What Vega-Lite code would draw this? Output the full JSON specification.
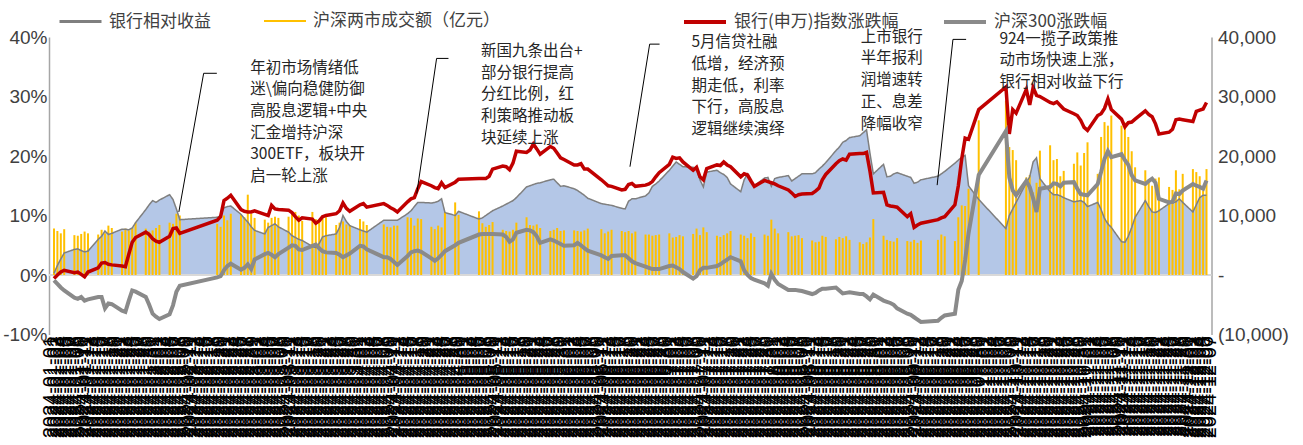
{
  "$schema": "https://vega.github.io/schema/vega-lite/v6.json",
  "width": 1162.5,
  "height": 297.5,
  "autosize": {"type": "none"},
  "padding": {"left": 49, "top": 37, "right": 91.5, "bottom": 110.5},
  "background": "white",
  "config": {"view": {"stroke": null}, "font": "Liberation Sans"},
  "datasets": {
    "main": [
      {"date":"2024-01-02","bank":-0.6,"hs300":-0.9,"rel":0.3,"vol":7800},
      {"date":"2024-01-03","bank":0.0,"hs300":-1.5,"rel":1.6,"vol":7400},
      {"date":"2024-01-04","bank":0.5,"hs300":-2.1,"rel":2.7,"vol":7000},
      {"date":"2024-01-05","bank":0.8,"hs300":-2.6,"rel":3.7,"vol":7700},
      {"date":"2024-01-08","bank":0.4,"hs300":-3.8,"rel":4.3,"vol":6700},
      {"date":"2024-01-09","bank":0.5,"hs300":-4.0,"rel":4.4,"vol":6600},
      {"date":"2024-01-10","bank":0.1,"hs300":-3.7,"rel":4.1,"vol":6900},
      {"date":"2024-01-11","bank":-0.3,"hs300":-4.3,"rel":3.9,"vol":7300},
      {"date":"2024-01-12","bank":0.5,"hs300":-4.1,"rel":4.0,"vol":7000},
      {"date":"2024-01-15","bank":1.2,"hs300":-3.7,"rel":6.0,"vol":6800},
      {"date":"2024-01-16","bank":2.0,"hs300":-3.7,"rel":6.5,"vol":7600},
      {"date":"2024-01-17","bank":2.1,"hs300":-5.6,"rel":7.4,"vol":7000},
      {"date":"2024-01-18","bank":1.8,"hs300":-4.8,"rel":6.8,"vol":8300},
      {"date":"2024-01-19","bank":1.7,"hs300":-4.9,"rel":7.0,"vol":7900},
      {"date":"2024-01-22","bank":1.5,"hs300":-6.0,"rel":7.7,"vol":7300},
      {"date":"2024-01-23","bank":1.4,"hs300":-6.2,"rel":7.7,"vol":7800},
      {"date":"2024-01-24","bank":3.5,"hs300":-4.3,"rel":7.6,"vol":7500},
      {"date":"2024-01-25","bank":5.5,"hs300":-2.6,"rel":7.9,"vol":7900},
      {"date":"2024-01-26","bank":6.3,"hs300":-2.8,"rel":8.8,"vol":8800},
      {"date":"2024-01-29","bank":7.2,"hs300":-3.7,"rel":11.0,"vol":7800},
      {"date":"2024-01-30","bank":6.8,"hs300":-5.0,"rel":11.8,"vol":7300},
      {"date":"2024-01-31","bank":6.1,"hs300":-6.5,"rel":12.5,"vol":7500},
      {"date":"2024-02-01","bank":5.7,"hs300":-7.0,"rel":12.2,"vol":7900},
      {"date":"2024-02-02","bank":5.5,"hs300":-7.4,"rel":12.6,"vol":8400},
      {"date":"2024-02-05","bank":6.5,"hs300":-6.6,"rel":13.5,"vol":8800},
      {"date":"2024-02-06","bank":7.8,"hs300":-5.1,"rel":12.7,"vol":8600},
      {"date":"2024-02-07","bank":7.9,"hs300":-2.8,"rel":11.1,"vol":10300},
      {"date":"2024-02-08","bank":7.0,"hs300":-1.8,"rel":9.3,"vol":10000},
      {"date":"2024-02-19","bank":9.2,"hs300":-0.4,"rel":9.7,"vol":8600},
      {"date":"2024-02-20","bank":9.8,"hs300":-0.2,"rel":10.0,"vol":8100},
      {"date":"2024-02-21","bank":12.5,"hs300":0.8,"rel":11.3,"vol":10000},
      {"date":"2024-02-22","bank":12.9,"hs300":1.5,"rel":11.5,"vol":9200},
      {"date":"2024-02-23","bank":13.4,"hs300":1.9,"rel":11.6,"vol":10300},
      {"date":"2024-02-26","bank":11.0,"hs300":0.9,"rel":10.2,"vol":10200},
      {"date":"2024-02-27","bank":10.7,"hs300":1.2,"rel":9.5,"vol":9700},
      {"date":"2024-02-28","bank":10.6,"hs300":1.8,"rel":8.9,"vol":13500},
      {"date":"2024-02-29","bank":10.6,"hs300":1.0,"rel":8.1,"vol":10300},
      {"date":"2024-03-01","bank":10.8,"hs300":2.6,"rel":7.5,"vol":9600},
      {"date":"2024-03-04","bank":10.2,"hs300":3.5,"rel":6.9,"vol":9300},
      {"date":"2024-03-05","bank":10.0,"hs300":3.7,"rel":8.0,"vol":8800},
      {"date":"2024-03-06","bank":11.7,"hs300":3.4,"rel":8.3,"vol":9600},
      {"date":"2024-03-07","bank":11.1,"hs300":3.0,"rel":8.6,"vol":9800},
      {"date":"2024-03-08","bank":11.0,"hs300":3.5,"rel":8.1,"vol":9600},
      {"date":"2024-03-11","bank":10.9,"hs300":4.6,"rel":7.2,"vol":9800},
      {"date":"2024-03-12","bank":10.5,"hs300":5.0,"rel":6.6,"vol":10600},
      {"date":"2024-03-13","bank":9.8,"hs300":4.9,"rel":6.3,"vol":10600},
      {"date":"2024-03-14","bank":9.2,"hs300":4.3,"rel":6.0,"vol":10000},
      {"date":"2024-03-15","bank":9.6,"hs300":4.2,"rel":5.8,"vol":9100},
      {"date":"2024-03-18","bank":9.4,"hs300":4.9,"rel":4.8,"vol":10600},
      {"date":"2024-03-19","bank":8.7,"hs300":5.1,"rel":4.6,"vol":9400},
      {"date":"2024-03-20","bank":9.1,"hs300":4.5,"rel":5.3,"vol":8800},
      {"date":"2024-03-21","bank":9.8,"hs300":4.0,"rel":6.4,"vol":10000},
      {"date":"2024-03-22","bank":10.0,"hs300":3.8,"rel":6.6,"vol":9700},
      {"date":"2024-03-25","bank":10.3,"hs300":3.7,"rel":6.9,"vol":8400},
      {"date":"2024-03-26","bank":10.8,"hs300":3.4,"rel":8.0,"vol":8800},
      {"date":"2024-03-27","bank":12.1,"hs300":3.0,"rel":10.0,"vol":9000},
      {"date":"2024-03-28","bank":11.2,"hs300":3.3,"rel":9.0,"vol":8500},
      {"date":"2024-03-29","bank":10.7,"hs300":3.6,"rel":8.3,"vol":8400},
      {"date":"2024-04-01","bank":11.8,"hs300":4.9,"rel":7.6,"vol":9400},
      {"date":"2024-04-02","bank":12.0,"hs300":4.8,"rel":7.4,"vol":9000},
      {"date":"2024-04-03","bank":11.4,"hs300":4.3,"rel":7.2,"vol":8400},
      {"date":"2024-04-08","bank":12.0,"hs300":3.0,"rel":9.2,"vol":8500},
      {"date":"2024-04-09","bank":11.7,"hs300":3.0,"rel":9.2,"vol":8100},
      {"date":"2024-04-10","bank":11.3,"hs300":2.7,"rel":9.2,"vol":8000},
      {"date":"2024-04-11","bank":11.0,"hs300":2.2,"rel":9.2,"vol":8300},
      {"date":"2024-04-12","bank":10.6,"hs300":1.7,"rel":9.2,"vol":8300},
      {"date":"2024-04-15","bank":12.3,"hs300":3.2,"rel":10.3,"vol":9700},
      {"date":"2024-04-16","bank":12.8,"hs300":3.8,"rel":10.8,"vol":9600},
      {"date":"2024-04-17","bank":13.0,"hs300":4.0,"rel":11.5,"vol":8300},
      {"date":"2024-04-18","bank":14.5,"hs300":4.1,"rel":12.2,"vol":9500},
      {"date":"2024-04-19","bank":15.7,"hs300":3.9,"rel":12.2,"vol":9400},
      {"date":"2024-04-22","bank":15.0,"hs300":2.8,"rel":12.1,"vol":8100},
      {"date":"2024-04-23","bank":14.7,"hs300":2.4,"rel":12.2,"vol":7700},
      {"date":"2024-04-24","bank":14.5,"hs300":2.8,"rel":12.4,"vol":8300},
      {"date":"2024-04-25","bank":15.5,"hs300":3.4,"rel":12.8,"vol":8000},
      {"date":"2024-04-26","bank":14.7,"hs300":4.0,"rel":10.5,"vol":10600},
      {"date":"2024-04-29","bank":15.6,"hs300":5.0,"rel":10.0,"vol":12200},
      {"date":"2024-04-30","bank":16.1,"hs300":5.4,"rel":10.7,"vol":10100},
      {"date":"2024-05-06","bank":16.2,"hs300":6.8,"rel":9.4,"vol":10700},
      {"date":"2024-05-07","bank":16.2,"hs300":6.9,"rel":9.6,"vol":8700},
      {"date":"2024-05-08","bank":16.2,"hs300":6.9,"rel":10.0,"vol":8100},
      {"date":"2024-05-09","bank":16.6,"hs300":6.9,"rel":10.4,"vol":8400},
      {"date":"2024-05-10","bank":17.8,"hs300":6.9,"rel":10.8,"vol":8900},
      {"date":"2024-05-13","bank":18.3,"hs300":6.8,"rel":11.6,"vol":7600},
      {"date":"2024-05-14","bank":18.2,"hs300":6.4,"rel":11.9,"vol":7400},
      {"date":"2024-05-15","bank":17.7,"hs300":5.6,"rel":12.2,"vol":7300},
      {"date":"2024-05-16","bank":18.8,"hs300":6.0,"rel":12.5,"vol":7600},
      {"date":"2024-05-17","bank":20.8,"hs300":7.1,"rel":13.0,"vol":8800},
      {"date":"2024-05-20","bank":20.6,"hs300":7.6,"rel":14.8,"vol":9700},
      {"date":"2024-05-21","bank":21.0,"hs300":7.5,"rel":15.0,"vol":8400},
      {"date":"2024-05-22","bank":22.0,"hs300":7.2,"rel":15.2,"vol":8300},
      {"date":"2024-05-23","bank":21.2,"hs300":6.5,"rel":15.4,"vol":8500},
      {"date":"2024-05-24","bank":20.3,"hs300":5.4,"rel":15.5,"vol":7900},
      {"date":"2024-05-27","bank":21.6,"hs300":6.0,"rel":16.0,"vol":7400},
      {"date":"2024-05-28","bank":21.3,"hs300":5.8,"rel":16.1,"vol":7600},
      {"date":"2024-05-29","bank":20.5,"hs300":5.5,"rel":15.5,"vol":7900},
      {"date":"2024-05-30","bank":19.7,"hs300":5.2,"rel":14.9,"vol":7400},
      {"date":"2024-05-31","bank":19.4,"hs300":4.9,"rel":15.0,"vol":7500},
      {"date":"2024-06-03","bank":18.5,"hs300":5.0,"rel":14.5,"vol":7500},
      {"date":"2024-06-04","bank":18.5,"hs300":5.4,"rel":14.2,"vol":7400},
      {"date":"2024-06-05","bank":18.7,"hs300":5.0,"rel":13.8,"vol":7300},
      {"date":"2024-06-06","bank":17.8,"hs300":4.5,"rel":13.4,"vol":7500},
      {"date":"2024-06-07","bank":17.8,"hs300":4.1,"rel":12.9,"vol":7800},
      {"date":"2024-06-11","bank":16.0,"hs300":3.3,"rel":12.0,"vol":7700},
      {"date":"2024-06-12","bank":15.5,"hs300":3.0,"rel":11.9,"vol":7000},
      {"date":"2024-06-13","bank":15.0,"hs300":2.7,"rel":11.8,"vol":7300},
      {"date":"2024-06-14","bank":14.9,"hs300":3.2,"rel":11.7,"vol":7600},
      {"date":"2024-06-17","bank":14.3,"hs300":3.3,"rel":11.2,"vol":7400},
      {"date":"2024-06-18","bank":14.4,"hs300":3.3,"rel":11.1,"vol":7200},
      {"date":"2024-06-19","bank":15.2,"hs300":2.8,"rel":12.4,"vol":7400},
      {"date":"2024-06-20","bank":15.4,"hs300":2.3,"rel":12.8,"vol":7000},
      {"date":"2024-06-21","bank":14.9,"hs300":2.0,"rel":12.8,"vol":7300},
      {"date":"2024-06-24","bank":15.1,"hs300":1.4,"rel":13.3,"vol":6800},
      {"date":"2024-06-25","bank":15.3,"hs300":1.2,"rel":13.8,"vol":6800},
      {"date":"2024-06-26","bank":15.7,"hs300":1.0,"rel":14.9,"vol":6600},
      {"date":"2024-06-27","bank":16.5,"hs300":1.0,"rel":15.3,"vol":6700},
      {"date":"2024-06-28","bank":17.2,"hs300":1.0,"rel":15.8,"vol":6800},
      {"date":"2024-07-01","bank":18.6,"hs300":1.5,"rel":17.6,"vol":7000},
      {"date":"2024-07-02","bank":19.8,"hs300":1.6,"rel":18.3,"vol":6300},
      {"date":"2024-07-03","bank":19.6,"hs300":1.3,"rel":19.0,"vol":6400},
      {"date":"2024-07-04","bank":19.7,"hs300":1.0,"rel":18.6,"vol":6700},
      {"date":"2024-07-05","bank":19.0,"hs300":0.5,"rel":18.2,"vol":6500},
      {"date":"2024-07-08","bank":17.6,"hs300":-0.6,"rel":18.1,"vol":6900},
      {"date":"2024-07-09","bank":18.1,"hs300":-0.2,"rel":17.8,"vol":7800},
      {"date":"2024-07-10","bank":16.5,"hs300":0.8,"rel":16.0,"vol":6700},
      {"date":"2024-07-11","bank":16.0,"hs300":1.2,"rel":14.8,"vol":8000},
      {"date":"2024-07-12","bank":17.9,"hs300":1.2,"rel":17.3,"vol":7200},
      {"date":"2024-07-15","bank":18.5,"hs300":1.5,"rel":17.6,"vol":6600},
      {"date":"2024-07-16","bank":18.4,"hs300":1.8,"rel":17.2,"vol":6400},
      {"date":"2024-07-17","bank":19.0,"hs300":2.2,"rel":16.9,"vol":6700},
      {"date":"2024-07-18","bank":18.5,"hs300":2.6,"rel":16.4,"vol":7000},
      {"date":"2024-07-19","bank":18.2,"hs300":3.0,"rel":15.3,"vol":7400},
      {"date":"2024-07-22","bank":16.5,"hs300":2.3,"rel":14.0,"vol":6800},
      {"date":"2024-07-23","bank":17.0,"hs300":0.8,"rel":16.0,"vol":6600},
      {"date":"2024-07-24","bank":16.8,"hs300":0.0,"rel":17.0,"vol":6200},
      {"date":"2024-07-25","bank":15.8,"hs300":-0.5,"rel":15.8,"vol":7000},
      {"date":"2024-07-26","bank":14.9,"hs300":-0.8,"rel":15.0,"vol":6400},
      {"date":"2024-07-29","bank":15.9,"hs300":-1.4,"rel":16.3,"vol":6800},
      {"date":"2024-07-30","bank":15.7,"hs300":-1.8,"rel":16.4,"vol":6600},
      {"date":"2024-07-31","bank":15.5,"hs300":0.2,"rel":14.9,"vol":9300},
      {"date":"2024-08-01","bank":15.3,"hs300":-0.8,"rel":16.2,"vol":7800},
      {"date":"2024-08-02","bank":15.0,"hs300":-1.5,"rel":16.4,"vol":7000},
      {"date":"2024-08-05","bank":14.3,"hs300":-2.5,"rel":16.7,"vol":7200},
      {"date":"2024-08-06","bank":13.8,"hs300":-2.5,"rel":15.8,"vol":6500},
      {"date":"2024-08-07","bank":13.2,"hs300":-2.5,"rel":16.2,"vol":6600},
      {"date":"2024-08-08","bank":13.5,"hs300":-2.6,"rel":16.6,"vol":6700},
      {"date":"2024-08-09","bank":13.6,"hs300":-2.7,"rel":17.0,"vol":6200},
      {"date":"2024-08-12","bank":13.7,"hs300":-3.2,"rel":17.0,"vol":5800},
      {"date":"2024-08-13","bank":14.1,"hs300":-3.0,"rel":17.2,"vol":5500},
      {"date":"2024-08-14","bank":14.6,"hs300":-2.6,"rel":17.8,"vol":5600},
      {"date":"2024-08-15","bank":16.0,"hs300":-2.3,"rel":18.3,"vol":6600},
      {"date":"2024-08-16","bank":16.9,"hs300":-2.3,"rel":18.9,"vol":6400},
      {"date":"2024-08-19","bank":18.7,"hs300":-2.1,"rel":20.9,"vol":6000},
      {"date":"2024-08-20","bank":19.2,"hs300":-2.6,"rel":21.5,"vol":6400},
      {"date":"2024-08-21","bank":19.5,"hs300":-3.1,"rel":22.3,"vol":6200},
      {"date":"2024-08-22","bank":19.3,"hs300":-3.0,"rel":22.6,"vol":6500},
      {"date":"2024-08-23","bank":20.3,"hs300":-2.9,"rel":23.1,"vol":5900},
      {"date":"2024-08-26","bank":20.4,"hs300":-3.2,"rel":23.4,"vol":5500},
      {"date":"2024-08-27","bank":20.4,"hs300":-3.2,"rel":23.9,"vol":5200},
      {"date":"2024-08-28","bank":20.6,"hs300":-3.6,"rel":24.4,"vol":5500},
      {"date":"2024-08-29","bank":17.5,"hs300":-4.1,"rel":20.5,"vol":6300},
      {"date":"2024-08-30","bank":13.8,"hs300":-3.3,"rel":17.0,"vol":9400},
      {"date":"2024-09-02","bank":13.9,"hs300":-4.3,"rel":18.6,"vol":6600},
      {"date":"2024-09-03","bank":11.8,"hs300":-4.5,"rel":16.5,"vol":5900},
      {"date":"2024-09-04","bank":11.6,"hs300":-4.7,"rel":16.6,"vol":5700},
      {"date":"2024-09-05","bank":11.5,"hs300":-5.0,"rel":17.0,"vol":5600},
      {"date":"2024-09-06","bank":11.4,"hs300":-5.6,"rel":17.2,"vol":6200},
      {"date":"2024-09-09","bank":9.8,"hs300":-6.5,"rel":16.6,"vol":5700},
      {"date":"2024-09-10","bank":10.3,"hs300":-6.7,"rel":16.4,"vol":5600},
      {"date":"2024-09-11","bank":8.0,"hs300":-7.1,"rel":15.4,"vol":5900},
      {"date":"2024-09-12","bank":8.4,"hs300":-7.5,"rel":15.6,"vol":5400},
      {"date":"2024-09-13","bank":8.7,"hs300":-7.9,"rel":16.0,"vol":5800},
      {"date":"2024-09-18","bank":9.3,"hs300":-7.7,"rel":16.6,"vol":5900},
      {"date":"2024-09-19","bank":9.6,"hs300":-7.2,"rel":17.0,"vol":6800},
      {"date":"2024-09-20","bank":9.8,"hs300":-6.8,"rel":17.4,"vol":6500},
      {"date":"2024-09-23","bank":11.8,"hs300":-6.5,"rel":18.8,"vol":5700},
      {"date":"2024-09-24","bank":15.0,"hs300":-2.5,"rel":19.3,"vol":9700},
      {"date":"2024-09-25","bank":19.5,"hs300":-1.0,"rel":19.8,"vol":11700},
      {"date":"2024-09-26","bank":23.0,"hs300":2.5,"rel":20.1,"vol":11600},
      {"date":"2024-09-27","bank":22.8,"hs300":7.0,"rel":15.0,"vol":14500},
      {"date":"2024-09-30","bank":27.8,"hs300":16.8,"rel":12.7,"vol":26000},
      {"date":"2024-10-08","bank":31.6,"hs300":24.2,"rel":7.8,"vol":29300},
      {"date":"2024-10-09","bank":23.7,"hs300":16.4,"rel":10.0,"vol":21500},
      {"date":"2024-10-10","bank":27.8,"hs300":14.2,"rel":11.1,"vol":21000},
      {"date":"2024-10-11","bank":27.2,"hs300":13.4,"rel":12.2,"vol":19300},
      {"date":"2024-10-14","bank":31.2,"hs300":15.8,"rel":15.5,"vol":16400},
      {"date":"2024-10-15","bank":28.6,"hs300":14.8,"rel":16.5,"vol":16800},
      {"date":"2024-10-16","bank":31.5,"hs300":12.9,"rel":19.0,"vol":13900},
      {"date":"2024-10-17","bank":30.2,"hs300":10.6,"rel":19.7,"vol":15500},
      {"date":"2024-10-18","bank":30.0,"hs300":14.5,"rel":16.2,"vol":20900},
      {"date":"2024-10-21","bank":29.0,"hs300":14.8,"rel":14.0,"vol":21800},
      {"date":"2024-10-22","bank":28.8,"hs300":15.4,"rel":13.5,"vol":19300},
      {"date":"2024-10-23","bank":29.1,"hs300":15.3,"rel":13.5,"vol":19500},
      {"date":"2024-10-24","bank":28.5,"hs300":14.9,"rel":13.3,"vol":16600},
      {"date":"2024-10-25","bank":27.9,"hs300":15.5,"rel":13.0,"vol":17500},
      {"date":"2024-10-28","bank":27.1,"hs300":15.6,"rel":12.3,"vol":18700},
      {"date":"2024-10-29","bank":26.8,"hs300":14.5,"rel":12.4,"vol":20600},
      {"date":"2024-10-30","bank":26.0,"hs300":13.6,"rel":12.5,"vol":18400},
      {"date":"2024-10-31","bank":24.8,"hs300":13.5,"rel":12.2,"vol":20500},
      {"date":"2024-11-01","bank":24.3,"hs300":13.4,"rel":11.5,"vol":22300},
      {"date":"2024-11-04","bank":26.8,"hs300":15.3,"rel":12.2,"vol":17000},
      {"date":"2024-11-05","bank":27.1,"hs300":17.3,"rel":11.0,"vol":23200},
      {"date":"2024-11-06","bank":28.0,"hs300":19.5,"rel":9.5,"vol":25700},
      {"date":"2024-11-07","bank":29.6,"hs300":20.8,"rel":8.6,"vol":25100},
      {"date":"2024-11-08","bank":27.8,"hs300":19.8,"rel":8.0,"vol":26800},
      {"date":"2024-11-11","bank":26.2,"hs300":20.3,"rel":5.6,"vol":25100},
      {"date":"2024-11-12","bank":24.9,"hs300":19.3,"rel":5.5,"vol":25600},
      {"date":"2024-11-13","bank":25.6,"hs300":18.5,"rel":6.5,"vol":23200},
      {"date":"2024-11-14","bank":25.7,"hs300":16.8,"rel":8.0,"vol":20800},
      {"date":"2024-11-15","bank":26.2,"hs300":15.9,"rel":9.7,"vol":18100},
      {"date":"2024-11-18","bank":27.6,"hs300":15.3,"rel":12.5,"vol":17600},
      {"date":"2024-11-19","bank":27.0,"hs300":15.8,"rel":11.5,"vol":15900},
      {"date":"2024-11-20","bank":26.6,"hs300":16.2,"rel":10.6,"vol":15000},
      {"date":"2024-11-21","bank":25.4,"hs300":15.5,"rel":10.5,"vol":16200},
      {"date":"2024-11-22","bank":23.7,"hs300":12.8,"rel":10.8,"vol":16400},
      {"date":"2024-11-25","bank":24.0,"hs300":12.2,"rel":12.0,"vol":14800},
      {"date":"2024-11-26","bank":24.5,"hs300":12.3,"rel":12.1,"vol":14300},
      {"date":"2024-11-27","bank":26.1,"hs300":13.7,"rel":12.3,"vol":17600},
      {"date":"2024-11-28","bank":26.2,"hs300":13.6,"rel":12.8,"vol":14400},
      {"date":"2024-11-29","bank":26.1,"hs300":14.2,"rel":12.2,"vol":17000},
      {"date":"2024-12-02","bank":25.8,"hs300":15.3,"rel":10.6,"vol":17800},
      {"date":"2024-12-03","bank":27.5,"hs300":15.0,"rel":11.8,"vol":17300},
      {"date":"2024-12-04","bank":27.7,"hs300":14.8,"rel":13.0,"vol":16600},
      {"date":"2024-12-05","bank":27.9,"hs300":14.5,"rel":13.4,"vol":14200},
      {"date":"2024-12-06","bank":29.0,"hs300":15.9,"rel":13.4,"vol":17800}
    ],
    "notes": [
      {"date":"2024-02-28T17:00:00Z","v":34.0,"t":"年初市场情绪低\n迷\\偏向稳健防御\n高股息逻辑+中央\n汇金增持沪深\n300ETF，板块开\n启一轮上涨"},
      {"date":"2024-05-06T15:00:00Z","v":36.8,"t":"新国九条出台+\n部分银行提高\n分红比例，红\n利策略推动板\n块延续上涨"},
      {"date":"2024-07-07T12:00:00Z","v":38.3,"t":"5月信贷社融\n低增，经济预\n期走低，利率\n下行，高股息\n逻辑继续演绎"},
      {"date":"2024-08-26T07:00:00Z","v":39.2,"t":"上市银行\n半年报利\n润增速转\n正、息差\n降幅收窄"},
      {"date":"2024-10-06T02:00:00Z","v":38.9,"t":"924一揽子政策推\n动市场快速上涨，\n银行相对收益下行"}
    ],
    "leaders": [
      {"id":1,"o":0,"date":"2024-02-07T17:30:00Z","v":10.6},
      {"id":1,"o":1,"date":"2024-02-15T00:30:00Z","v":33.9},
      {"id":1,"o":2,"date":"2024-02-18T21:30:00Z","v":33.9},
      {"id":2,"o":0,"date":"2024-04-17T17:00:00Z","v":13.7},
      {"id":2,"o":1,"date":"2024-04-23T13:00:00Z","v":36.4},
      {"id":2,"o":2,"date":"2024-04-27T00:45:00Z","v":36.4},
      {"id":3,"o":0,"date":"2024-06-19T10:00:00Z","v":18.2},
      {"id":3,"o":1,"date":"2024-06-25T05:00:00Z","v":38.8},
      {"id":3,"o":2,"date":"2024-06-28T03:00:00Z","v":38.8},
      {"id":4,"o":0,"date":"2024-09-17T18:30:00Z","v":15.1},
      {"id":4,"o":1,"date":"2024-09-22T10:00:00Z","v":39.6},
      {"id":4,"o":2,"date":"2024-09-26T07:00:00Z","v":39.6}
    ]
  },
  "resolve": {"scale": {"y": "independent"}},
  "layer": [
    {
      "data": {"name": "main"},
      "mark": {"type": "area", "fill": "#B4C7E7", "fillOpacity": 1},
      "encoding": {
        "x": {"field": "date", "type": "temporal",
          "scale": {"type": "utc", "domain": [{"year":2024,"month":1,"date":2,"utc":true},{"year":2024,"month":12,"date":6,"utc":true}]},
          "axis": {"title": null, "format": "%Y-%m-%d", "tickCount": {"interval": "day", "step": 1},
            "labelAngle": 270, "labelOverlap": false, "labelBound": false, "labelFlush": false,
            "labelFont": "Liberation Sans", "labelFontSize": 20, "labelColor": "#000000",
            "ticks": false, "domain": false, "grid": false, "labelPadding": 1}},
        "y": {"field": "rel", "type": "quantitative",
          "scale": {"domain": [-10, 40], "nice": false, "zero": false},
          "axis": {"orient": "left", "title": null, "values": [-10, 0, 10, 20, 30, 40],
            "labelExpr": "datum.value + '%'", "grid": false, "ticks": false,
            "domainColor": "#A6A6A6", "domainWidth": 1.5,
            "labelFont": "Liberation Sans", "labelFontSize": 19, "labelColor": "#404040", "labelPadding": 2}}
      }
    },
    {
      "data": {"values": [{"z": 0}]},
      "mark": {"type": "rule", "stroke": "#D9D9D9", "strokeWidth": 2},
      "encoding": {
        "y": {"field": "z", "type": "quantitative", "scale": {"domain": [-10, 40], "nice": false, "zero": false}, "axis": null}
      }
    },
    {
      "data": {"name": "main"},
      "mark": {"type": "bar", "size": 2},
      "encoding": {
        "x": {"field": "date", "type": "temporal", "scale": {"type": "utc"}},
        "y": {"field": "vol", "type": "quantitative",
          "scale": {"domain": [-10000, 40000], "nice": false, "zero": false},
          "axis": {"orient": "right", "title": null, "values": [-10000, 0, 10000, 20000, 30000, 40000],
            "labelExpr": "datum.value == 0 ? '-' : (datum.value < 0 ? '(' + format(-datum.value, ',') + ')' : format(datum.value, ','))",
            "grid": false, "ticks": false, "domainColor": "#A6A6A6", "domainWidth": 1.5,
            "labelFont": "Liberation Sans", "labelFontSize": 19, "labelColor": "#404040", "labelPadding": 6}},
        "fill": {"datum": "沪深两市成交额（亿元）", "scale": {"range": ["#FFC000"]},
          "legend": {"orient": "none", "legendX": 214, "legendY": -38, "direction": "horizontal", "title": null,
            "padding": 0, "symbolType": "stroke", "symbolSize": 1764, "symbolStrokeWidth": 2,
            "symbolStrokeColor": "#FFC000", "labelFont": "Noto Sans CJK SC", "labelFontSize": 17,
            "labelColor": "#404040", "labelOffset": 6, "labelLimit": 400,
            "encode": {"symbols": {"update": {"stroke": {"value": "#FFC000"}, "strokeWidth": {"value": 2}}}}}}
      }
    },
    {
      "data": {"name": "main"},
      "mark": {"type": "line", "stroke": "#7F7F7F", "strokeWidth": 1.5},
      "encoding": {
        "x": {"field": "date", "type": "temporal", "scale": {"type": "utc"}},
        "y": {"field": "rel", "type": "quantitative", "scale": {"domain": [-10, 40], "nice": false, "zero": false}, "axis": null},
        "strokeDash": {"datum": "银行相对收益", "scale": {"range": [[1, 0]]},
          "legend": {"orient": "none", "legendX": 9, "legendY": -38, "direction": "horizontal", "title": null,
            "padding": 0, "symbolType": "stroke", "symbolSize": 1764, "symbolStrokeWidth": 3,
            "symbolStrokeColor": "#7F7F7F", "labelFont": "Noto Sans CJK SC", "labelFontSize": 17,
            "labelColor": "#404040", "labelOffset": 6, "labelLimit": 400,
            "encode": {"symbols": {"update": {"stroke": {"value": "#7F7F7F"}, "strokeWidth": {"value": 3}}}}}}
      }
    },
    {
      "data": {"name": "main"},
      "mark": {"type": "line", "strokeWidth": 3.5},
      "encoding": {
        "x": {"field": "date", "type": "temporal", "scale": {"type": "utc"}},
        "y": {"field": "bank", "type": "quantitative", "scale": {"domain": [-10, 40], "nice": false, "zero": false}, "axis": null},
        "stroke": {"datum": "银行(申万)指数涨跌幅", "type": "nominal",
          "scale": {"domain": ["银行(申万)指数涨跌幅", "沪深300涨跌幅"], "range": ["#C00000", "#8A8A8A"]},
          "legend": {"orient": "none", "legendX": 633, "legendY": -38, "direction": "horizontal", "title": null,
            "padding": 0, "symbolType": "stroke", "symbolSize": 1764, "symbolStrokeWidth": 4,
            "columnPadding": 37, "labelFont": "Noto Sans CJK SC", "labelFontSize": 17,
            "labelColor": "#404040", "labelOffset": 6, "labelLimit": 400}}
      }
    },
    {
      "data": {"name": "main"},
      "mark": {"type": "line", "strokeWidth": 4},
      "encoding": {
        "x": {"field": "date", "type": "temporal", "scale": {"type": "utc"}},
        "y": {"field": "hs300", "type": "quantitative", "scale": {"domain": [-10, 40], "nice": false, "zero": false}, "axis": null},
        "stroke": {"datum": "沪深300涨跌幅", "type": "nominal"}
      }
    },
    {
      "data": {"name": "leaders"},
      "mark": {"type": "line", "stroke": "#000000", "strokeWidth": 1},
      "encoding": {
        "x": {"field": "date", "type": "temporal", "scale": {"type": "utc"}},
        "y": {"field": "v", "type": "quantitative", "scale": {"domain": [-10, 40], "nice": false, "zero": false}, "axis": null},
        "detail": {"field": "id", "type": "nominal"},
        "order": {"field": "o", "type": "quantitative"}
      }
    },
    {
      "data": {"name": "notes"},
      "mark": {"type": "text", "align": "left", "baseline": "alphabetic", "lineBreak": "\n", "lineHeight": 21.7,
        "font": "Noto Sans CJK SC", "fontSize": 15.5, "color": "#262626"},
      "encoding": {
        "x": {"field": "date", "type": "temporal", "scale": {"type": "utc"}},
        "y": {"field": "v", "type": "quantitative", "scale": {"domain": [-10, 40], "nice": false, "zero": false}, "axis": null},
        "text": {"field": "t", "type": "nominal"}
      }
    }
  ]
}
